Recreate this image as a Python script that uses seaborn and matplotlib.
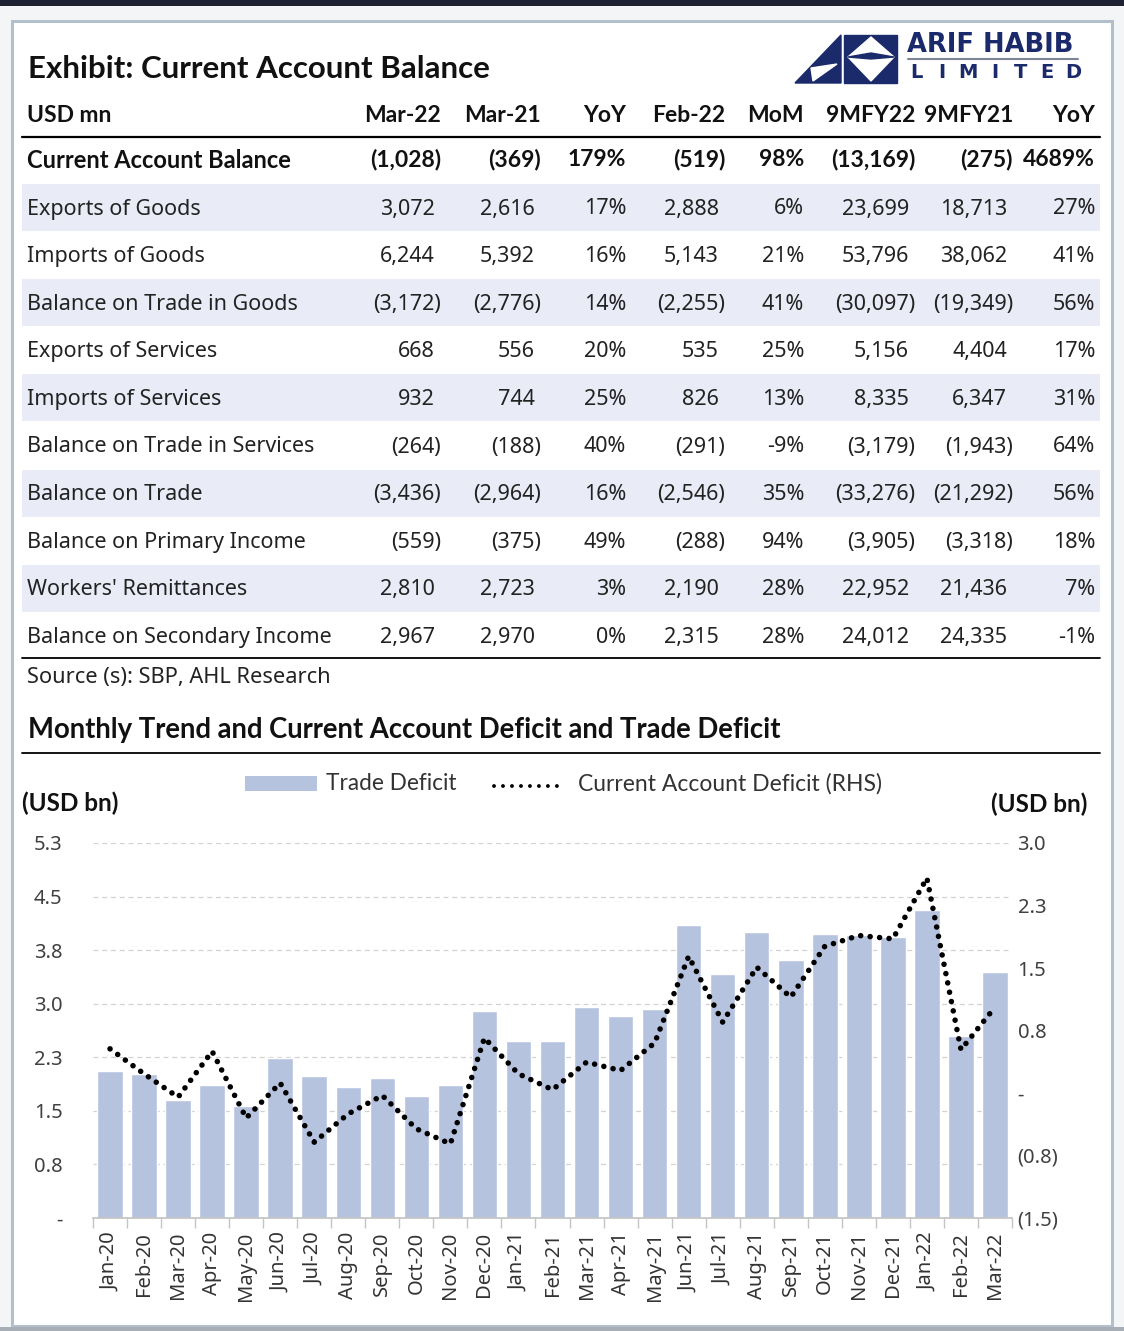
import numpy as np
import pandas as pd
import seaborn as sns
import matplotlib.pyplot as plt
from matplotlib.patches import Rectangle, Polygon
from matplotlib.lines import Line2D

W, H = 1124, 1331

# ---- table data (USD mn) ----
col_heads = ['Mar-22', 'Mar-21', 'YoY', 'Feb-22', 'MoM', '9MFY22', '9MFY21', 'YoY']
pct_cols = [2, 4, 7]
cab_label = 'Current Account Balance'
cab = [-1028, -369, 179, -519, 98, -13169, -275, 4689]
row_labels = ['Exports of Goods', 'Imports of Goods', 'Balance on Trade in Goods',
              'Exports of Services', 'Imports of Services', 'Balance on Trade in Services',
              'Balance on Trade', 'Balance on Primary Income', "Workers' Remittances",
              'Balance on Secondary Income']
exports_goods = [3072, 2616, 17, 2888, 6, 23699, 18713, 27]
imports_goods = [6244, 5392, 16, 5143, 21, 53796, 38062, 41]
trade_goods = [-3172, -2776, 14, -2255, 41, -30097, -19349, 56]
exports_serv = [668, 556, 20, 535, 25, 5156, 4404, 17]
imports_serv = [932, 744, 25, 826, 13, 8335, 6347, 31]
trade_serv = [-264, -188, 40, -291, -9, -3179, -1943, 64]
trade_bal = [-3436, -2964, 16, -2546, 35, -33276, -21292, 56]
primary_inc = [-559, -375, 49, -288, 94, -3905, -3318, 18]
remittances = [2810, 2723, 3, 2190, 28, 22952, 21436, 7]
secondary_inc = [2967, 2970, 0, 2315, 28, 24012, 24335, -1]
rows = [exports_goods, imports_goods, trade_goods, exports_serv, imports_serv,
        trade_serv, trade_bal, primary_inc, remittances, secondary_inc]

# ---- chart data (USD bn) ----
months = ['Jan-20', 'Feb-20', 'Mar-20', 'Apr-20', 'May-20', 'Jun-20', 'Jul-20', 'Aug-20',
          'Sep-20', 'Oct-20', 'Nov-20', 'Dec-20', 'Jan-21', 'Feb-21', 'Mar-21', 'Apr-21',
          'May-21', 'Jun-21', 'Jul-21', 'Aug-21', 'Sep-21', 'Oct-21', 'Nov-21', 'Dec-21',
          'Jan-22', 'Feb-22', 'Mar-22']
trade_deficit = [2.06, 2.01, 1.65, 1.86, 1.57, 2.24, 1.99, 1.83, 1.96, 1.71, 1.86, 2.90,
                 2.48, 2.48, 2.96, 2.83, 2.92, 4.10, 3.41, 4.00, 3.61, 3.97, 3.96, 3.93,
                 4.31, 2.55, 3.44]
ca_deficit = [0.53, 0.23, -0.05, 0.50, -0.30, 0.12, -0.59, -0.25, -0.03, -0.43, -0.61, 0.66,
              0.23, 0.04, 0.37, 0.27, 0.60, 1.64, 0.85, 1.51, 1.15, 1.76, 1.89, 1.85,
              2.58, 0.52, 1.03]
left_ticks = [0, 0.75, 1.5, 2.25, 3.0, 3.75, 4.5, 5.25]
left_labels = ['-', '0.8', '1.5', '2.3', '3.0', '3.8', '4.5', '5.3']
right_ticks = [-1.5, -0.75, 0, 0.75, 1.5, 2.25, 3.0]
right_labels = ['(1.5)', '(0.8)', '-', '0.8', '1.5', '2.3', '3.0']

sns.set_theme(style='white')
plt.rcParams['font.family'] = ['Noto Sans', 'DejaVu Sans']
HEAD = 'Lato'
BODY = 'Noto Sans'
NAVY = '#1b2a6b'
BAR = '#b6c3df'

fig = plt.figure(figsize=(W / 100, H / 100), dpi=100)
fig.patch.set_facecolor('#f4f5f6')


def fx(x):
    return x / W


def fy(y):
    return 1 - y / H


def box(x0, y0, x1, y1, z=-1, **kw):
    fig.add_artist(Rectangle((fx(x0), fy(y1)), fx(x1) - fx(x0), fy(y0) - fy(y1),
                             transform=fig.transFigure, zorder=z, **kw))


def hline(y, x0, x1, lw, color='black'):
    fig.add_artist(Line2D([fx(x0), fx(x1)], [fy(y), fy(y)], transform=fig.transFigure,
                          lw=lw, color=color))


def fmt(v, j):
    if j in pct_cols:
        return f'{v}%'
    return f'({abs(v):,})' if v < 0 else f'{v:,}'


# frame and page bands
box(0, 0, W, 6, facecolor='#1f2233', lw=0)
box(0, 1327, W, H, facecolor='#a8aeb5', lw=0)
box(12, 21, 1112, 1326, z=-2, facecolor='white', edgecolor='#b3c0cc', lw=2.2)

# logo
lax = fig.add_axes([fx(790), fy(90), 115 / W, 62 / H])
lax.set_xlim(0, 115)
lax.set_ylim(62, 0)
lax.axis('off')
lax.add_patch(Polygon([(5, 55), (51, 7), (51, 55)], color=NAVY))
lax.add_patch(Polygon([(21, 40), (47, 36), (23, 53)], color='white'))
lax.add_patch(Rectangle((54, 7), 53, 48, color=NAVY))
lax.add_patch(Polygon([(81, 9), (104, 29), (81, 53), (58, 29)], color='white'))
lax.add_patch(Polygon([(58, 29), (81, 25), (104, 29), (81, 31)], color=NAVY))
fig.text(fx(907), fy(45), 'ARIF HABIB', fontfamily='DejaVu Sans', fontweight='bold',
         fontsize=18.5, color=NAVY, va='center')
hline(59, 908, 1078, 1.5, '#7d8495')
for i, ch in enumerate('LIMITED'):
    fig.text(fx(916 + i * 26.2), fy(73), ch, fontfamily='DejaVu Sans', fontweight='bold',
             fontsize=14, color=NAVY, ha='center', va='center')

# ---- table ----
fig.text(fx(28), fy(69), 'Exhibit: Current Account Balance', fontfamily=HEAD,
         fontweight='bold', fontsize=22.5, va='center', color='#111111')
col_right = [441, 541, 626, 725, 804, 915, 1013, 1095]
fig.text(fx(27), fy(116), 'USD mn', fontfamily=HEAD, fontweight='bold', fontsize=16.5,
         va='center', color='#111111')
for j, head in enumerate(col_heads):
    fig.text(fx(col_right[j]), fy(116), head, fontfamily=HEAD, fontweight='bold',
             fontsize=16.5, ha='right', va='center', color='#111111')
hline(137, 22, 1100, 1.6)

fig.text(fx(27), fy(160), cab_label, fontfamily=HEAD, fontweight='bold', fontsize=17,
         va='center', color='#111111')
for j, v in enumerate(cab):
    s = fmt(v, j)
    x = col_right[j] - (0 if (s.endswith(')') or s.endswith('%')) else 6)
    fig.text(fx(x), fy(160), s, fontfamily=HEAD, fontweight='bold', fontsize=16.5,
             ha='right', va='center', color='#111111')

for i, (lab, vals) in enumerate(zip(row_labels, rows)):
    yc = 207.5 + 47.6 * i
    if i % 2 == 0:
        box(22, yc - 23.5, 1100, yc + 23.5, facecolor='#e9ecf6', lw=0)
    fig.text(fx(27), fy(yc + 1.5), lab, fontfamily=BODY, fontsize=15.5, va='center',
             color='#222222')
    for j, v in enumerate(vals):
        s = fmt(v, j)
        x = col_right[j] - (0 if (s.endswith(')') or s.endswith('%')) else 6)
        fig.text(fx(x), fy(yc + 1.5), s, fontfamily=BODY, fontsize=15.5, ha='right',
                 va='center', color='#222222')
hline(658, 22, 1100, 1.3)
fig.text(fx(27), fy(677), 'Source (s): SBP, AHL Research', fontfamily=BODY, fontsize=15.7,
         va='center', color='#222222')

# ---- chart ----
fig.text(fx(28), fy(730), 'Monthly Trend and Current Account Deficit and Trade Deficit',
         fontfamily=HEAD, fontweight='bold', fontsize=19.8, va='center', color='#111111')
hline(753, 22, 1100, 1.3)

box(245, 776, 317, 791, facecolor=BAR, lw=0)
fig.text(fx(326), fy(784), 'Trade Deficit', fontfamily=HEAD, fontsize=16.3, va='center',
         color='#333333')
fig.add_artist(Line2D([fx(494), fx(558)], [fy(786), fy(786)], transform=fig.transFigure,
                      color='black', lw=2.8, dashes=(0.01, 2.3), dash_capstyle='round'))
fig.text(fx(578), fy(784), 'Current Account Deficit (RHS)', fontfamily=HEAD, fontsize=16.5,
         va='center', color='#333333')
fig.text(fx(22), fy(803), '(USD bn)', fontfamily=HEAD, fontweight='bold', fontsize=17.5,
         va='center', color='#111111')
fig.text(fx(1087), fy(804), '(USD bn)', fontfamily=HEAD, fontweight='bold', fontsize=17.5,
         ha='right', va='center', color='#111111')

df = pd.DataFrame({'month': months, 'trade': trade_deficit, 'ca': ca_deficit})

ax = fig.add_axes([fx(93), fy(1218), 919 / W, 375 / H])
ax.set_facecolor('none')
sns.barplot(data=df, x='month', y='trade', color=BAR, saturation=1, width=0.75, ax=ax)
ax.set_xlim(-0.5, 26.5)
ax.set_ylim(0, 5.25)
ax.set_yticks(left_ticks, left_labels)
ax.set_axisbelow(True)
ax.yaxis.grid(True, linestyle=(0, (4, 3)), color='#d2d2d2', lw=0.9)
ax.tick_params(axis='y', length=0, pad=22, labelsize=14.5, labelcolor='#404040')
ax.set_xticks(range(len(months)), months, rotation=90)
ax.set_xticks(np.arange(-0.5, len(months)), minor=True)
ax.tick_params(axis='x', which='major', length=0, pad=10, labelsize=14.5, labelcolor='#333333')
ax.tick_params(axis='x', which='minor', length=7, width=1, color='#c4c4c4', bottom=True)
for lab in ax.get_xticklabels():
    lab.set_fontfamily(BODY)
for lab in ax.get_yticklabels():
    lab.set_fontfamily(BODY)
ax.set_xlabel('')
ax.set_ylabel('')
sns.despine(ax=ax, left=True, top=True, right=True)
ax.spines['bottom'].set_color('#c4c4c4')

ax2 = ax.twinx()
sns.lineplot(data=df, x='month', y='ca', sort=False, color='black', lw=4, ax=ax2)
ln = ax2.lines[0]
ln.set_dashes([0.01, 1.7])
ln.set_dash_capstyle('round')
ax2.set_ylim(-1.5, 3.0)
ax2.set_yticks(right_ticks, right_labels)
ax2.tick_params(axis='y', length=0, pad=4, labelsize=14.5, labelcolor='#404040')
for lab in ax2.get_yticklabels():
    lab.set_fontfamily(BODY)
ax2.set_ylabel('')
ax2.grid(False)
for s in ax2.spines.values():
    s.set_visible(False)
ax.set_xlim(-0.5, 26.5)

fig.savefig('out.png', dpi=100, facecolor=fig.get_facecolor())
